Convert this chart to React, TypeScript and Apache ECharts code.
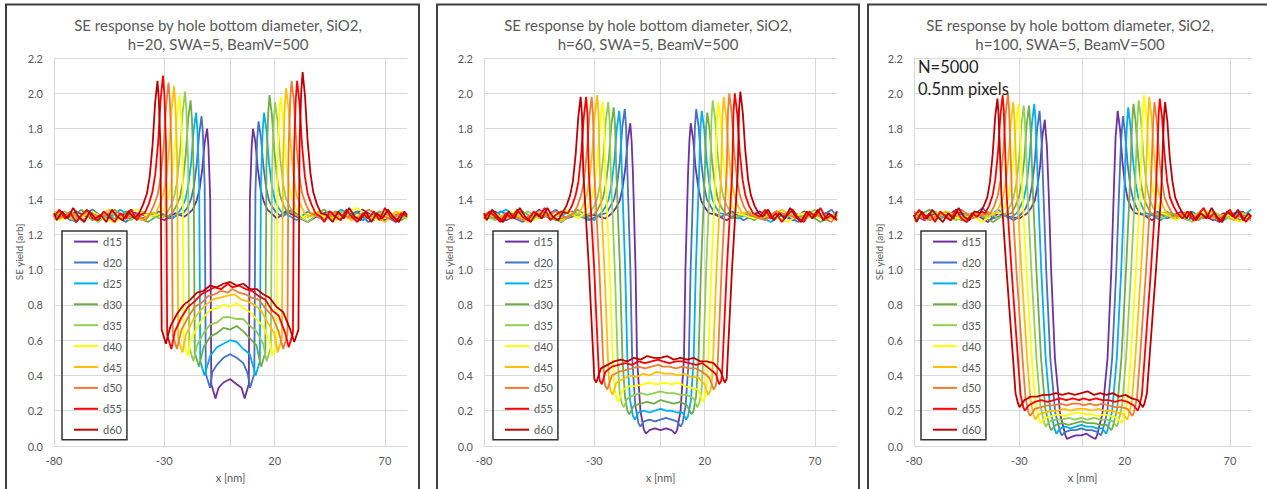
import React, { useEffect, useRef } from 'react';
import * as echarts from 'echarts';

const DIAMETERS = ['d15', 'd20', 'd25', 'd30', 'd35', 'd40', 'd45', 'd50', 'd55', 'd60'];
const COLORS = ['#7030A0', '#4472C4', '#00B0F0', '#70AD47', '#92D050', '#FFFF00', '#FFC000', '#ED7D31', '#FF0000', '#C00000'];
const TITLE_LINE1 = 'SE response by hole bottom diameter, SiO2,';
const TITLE_LINE2 = ['h=20, SWA=5, BeamV=500', 'h=60, SWA=5, BeamV=500', 'h=100, SWA=5, BeamV=500'];
const NOTE_LINES = ['N=5000', '0.5nm pixels'];
const X_MIN = -80;
const X_MAX = 80;
const X_STEP = 50;
const Y_MIN = 0;
const Y_MAX = 2.2;
const Y_STEP = 0.2;

// ---- h=20 (flat [x, y, x, y, ...]) ----
const H20_D15 = [-80,1.31,-75,1.29,-70,1.33,-65,1.30,-60,1.28,-55,1.32,-50,1.30,-45,1.34,-40,1.29,-35,1.31,-30,1.28,-25,1.32,-21,1.30,
-18.9,1.32,-17.1,1.34,-15.4,1.39,-14.1,1.45,-12.8,1.57,-11.7,1.72,-10.6,1.80,
-10.0,1.70,-9.2,1.40,-8.7,0.35,-6.8,0.27,
-5.4,0.33,-3.2,0.36,-0.2,0.38,2.8,0.35,5.0,0.33,
6.4,0.27,8.3,0.35,8.8,1.40,9.6,1.70,
10.2,1.80,11.3,1.72,12.4,1.57,13.7,1.45,15.0,1.39,16.7,1.34,18.5,1.32,
21,1.29,25,1.33,30,1.30,35,1.27,40,1.31,45,1.33,50,1.29,55,1.31,60,1.34,65,1.30,70,1.28,75,1.32,80,1.30];
const H20_D20 = [-80,1.30,-77.5,1.33,-72.5,1.28,-67.5,1.31,-62.5,1.34,-57.5,1.29,-52.5,1.31,-47.5,1.27,-42.5,1.32,-37.5,1.30,-32.5,1.33,-27.5,1.29,-23.5,1.31,
-21.4,1.32,-19.6,1.35,-17.9,1.40,-16.6,1.47,-15.3,1.60,-14.2,1.77,-13.1,1.87,
-12.5,1.77,-11.7,1.47,-11.2,0.41,-9.3,0.33,
-8.2,0.42,-6.2,0.46,-3.2,0.50,-0.2,0.52,2.8,0.50,5.8,0.47,7.8,0.41,
8.9,0.33,10.8,0.41,11.3,1.44,12.1,1.74,
12.7,1.84,13.8,1.75,14.9,1.59,16.2,1.46,17.5,1.39,19.2,1.35,21.0,1.32,
23.5,1.30,27.5,1.34,32.5,1.29,37.5,1.31,42.5,1.28,47.5,1.32,52.5,1.30,57.5,1.33,62.5,1.27,67.5,1.31,72.5,1.29,77.5,1.33,80,1.31];
const H20_D25 = [-80,1.32,-75,1.30,-70,1.27,-65,1.33,-60,1.31,-55,1.29,-50,1.34,-45,1.30,-40,1.28,-35,1.32,-30,1.31,-26,1.29,
-23.9,1.32,-22.1,1.35,-20.4,1.40,-19.1,1.48,-17.8,1.61,-16.7,1.79,-15.6,1.89,
-15.0,1.79,-14.2,1.49,-13.7,0.48,-11.8,0.40,
-9.2,0.51,-6.2,0.56,-3.2,0.58,-0.2,0.60,2.8,0.59,5.8,0.55,8.8,0.52,
11.4,0.40,13.3,0.48,13.8,1.49,14.6,1.79,
15.2,1.89,16.3,1.79,17.4,1.61,18.7,1.48,20.0,1.40,21.7,1.35,23.5,1.32,
26,1.31,30,1.28,35,1.33,40,1.30,45,1.29,50,1.34,55,1.31,60,1.28,65,1.32,70,1.30,75,1.27,80,1.31];
const H20_D30 = [-80,1.29,-77.5,1.32,-72.5,1.30,-67.5,1.34,-62.5,1.28,-57.5,1.31,-52.5,1.29,-47.5,1.33,-42.5,1.30,-37.5,1.27,-32.5,1.31,-28.5,1.30,
-26.4,1.32,-24.6,1.36,-22.9,1.41,-21.6,1.50,-20.3,1.65,-19.2,1.85,-18.1,1.96,
-17.5,1.86,-16.7,1.56,-16.2,0.53,-14.3,0.45,
-12.2,0.56,-9.2,0.62,-6.2,0.64,-3.2,0.67,-0.2,0.66,2.8,0.68,5.8,0.65,8.8,0.61,11.8,0.57,
13.9,0.45,15.8,0.53,16.3,1.59,17.1,1.89,
17.7,1.99,18.8,1.87,19.9,1.67,21.2,1.51,22.5,1.42,24.2,1.36,26.0,1.32,
28.5,1.33,32.5,1.29,37.5,1.31,42.5,1.34,47.5,1.28,52.5,1.30,57.5,1.32,62.5,1.29,67.5,1.33,72.5,1.30,77.5,1.28,80,1.31];
const H20_D35 = [-80,1.31,-75,1.33,-70,1.29,-65,1.31,-60,1.27,-55,1.32,-50,1.30,-45,1.28,-40,1.33,-35,1.30,-31,1.29,
-28.9,1.32,-27.1,1.36,-25.4,1.42,-24.1,1.51,-22.8,1.68,-21.7,1.89,-20.6,2.01,
-20.0,1.91,-19.2,1.61,-18.7,0.56,-16.8,0.48,
-15.2,0.57,-12.2,0.64,-9.2,0.69,-6.2,0.70,-3.2,0.73,-0.2,0.73,2.8,0.72,5.8,0.72,8.8,0.68,11.8,0.65,14.8,0.58,
16.4,0.48,18.3,0.56,18.8,1.55,19.6,1.85,
20.2,1.95,21.3,1.84,22.4,1.65,23.7,1.50,25.0,1.41,26.7,1.36,28.5,1.32,
31,1.30,35,1.27,40,1.32,45,1.30,50,1.33,55,1.29,60,1.31,65,1.28,70,1.34,75,1.30,80,1.29];
const H20_D40 = [-80,1.30,-77.5,1.28,-72.5,1.32,-67.5,1.30,-62.5,1.33,-57.5,1.29,-52.5,1.27,-47.5,1.31,-42.5,1.34,-37.5,1.30,-33.5,1.31,
-31.4,1.32,-29.6,1.36,-27.9,1.42,-26.6,1.51,-25.3,1.67,-24.2,1.87,-23.1,1.99,
-22.5,1.89,-21.7,1.59,-21.2,0.59,-19.3,0.51,
-18.2,0.60,-15.2,0.67,-12.2,0.73,-9.2,0.77,-6.2,0.78,-3.2,0.80,-0.2,0.79,2.8,0.81,5.8,0.78,8.8,0.76,11.8,0.72,14.8,0.68,17.8,0.59,
18.9,0.51,20.8,0.59,21.3,1.58,22.1,1.88,
22.7,1.98,23.8,1.86,24.9,1.66,26.2,1.50,27.5,1.42,29.2,1.36,31.0,1.32,
33.5,1.29,37.5,1.33,42.5,1.30,47.5,1.28,52.5,1.32,57.5,1.35,62.5,1.30,67.5,1.28,72.5,1.31,77.5,1.33,80,1.29];
const H20_D45 = [-80,1.33,-75,1.30,-70,1.28,-65,1.32,-60,1.30,-55,1.34,-50,1.29,-45,1.31,-40,1.28,-36,1.32,
-33.9,1.32,-32.1,1.37,-30.4,1.43,-29.1,1.52,-27.8,1.69,-26.7,1.91,-25.6,2.04,
-25.0,1.94,-24.2,1.64,-23.7,0.61,-21.8,0.53,
-20.2,0.63,-17.2,0.71,-14.2,0.76,-11.2,0.80,-8.2,0.83,-5.2,0.84,-2.2,0.85,1.8,0.86,4.8,0.83,7.8,0.82,10.8,0.80,13.8,0.77,16.8,0.70,19.8,0.64,
21.4,0.53,23.3,0.61,23.8,1.63,24.6,1.93,
25.2,2.03,26.3,1.91,27.4,1.69,28.7,1.52,30.0,1.42,31.7,1.37,33.5,1.32,
36,1.30,40,1.33,45,1.29,50,1.31,55,1.28,60,1.32,65,1.30,70,1.27,75,1.33,80,1.30];
const H20_D50 = [-80,1.31,-77.5,1.29,-72.5,1.33,-67.5,1.28,-62.5,1.31,-57.5,1.30,-52.5,1.34,-47.5,1.29,-42.5,1.31,-38.5,1.28,
-36.4,1.32,-34.6,1.37,-32.9,1.43,-31.6,1.53,-30.3,1.70,-29.2,1.93,-28.1,2.06,
-27.5,1.96,-26.7,1.66,-26.2,0.63,-24.3,0.55,
-22.2,0.66,-19.2,0.73,-16.2,0.79,-13.2,0.81,-10.2,0.85,-7.2,0.86,-4.2,0.88,-1.2,0.87,0.8,0.89,3.8,0.87,6.8,0.86,9.8,0.84,12.8,0.83,15.8,0.78,18.8,0.74,21.8,0.65,
23.9,0.55,25.8,0.63,26.3,1.67,27.1,1.97,
27.7,2.07,28.8,1.94,29.9,1.71,31.2,1.53,32.5,1.43,34.2,1.37,36.0,1.32,
38.5,1.31,42.5,1.28,47.5,1.33,52.5,1.30,57.5,1.29,62.5,1.34,67.5,1.31,72.5,1.29,77.5,1.32,80,1.30];
const H20_D55 = [-80,1.30,-77.5,1.34,-75,1.29,-72.5,1.32,-70,1.27,-67.5,1.31,-65,1.34,-62.5,1.29,-60,1.28,-57.5,1.33,-55,1.30,-52.5,1.27,-50,1.32,-47.5,1.29,-45,1.34,-42.5,1.28,-41,1.31,
-38.9,1.32,-37.1,1.37,-35.4,1.44,-34.1,1.54,-32.8,1.72,-31.7,1.96,-30.6,2.10,
-30.0,2.00,-29.2,1.70,-28.7,0.63,-26.8,0.55,
-25.2,0.65,-22.2,0.73,-19.2,0.79,-16.2,0.82,-13.2,0.86,-10.2,0.88,-7.2,0.90,-4.2,0.89,-1.2,0.92,0.8,0.90,3.8,0.91,6.8,0.89,9.8,0.88,12.8,0.85,15.8,0.83,18.8,0.77,21.8,0.74,24.8,0.64,
26.4,0.56,28.3,0.64,28.8,1.67,29.6,1.97,
30.2,2.07,31.3,1.94,32.4,1.71,33.7,1.53,35.0,1.43,36.7,1.37,38.5,1.32,
41,1.30,42.5,1.27,45,1.33,47.5,1.30,50,1.28,52.5,1.34,55,1.30,57.5,1.27,60,1.32,62.5,1.29,65,1.33,67.5,1.28,70,1.35,72.5,1.30,75,1.27,77.5,1.32,80,1.30];
const H20_D60 = [-80,1.32,-78.8,1.28,-76.3,1.33,-73.8,1.29,-71.3,1.35,-68.8,1.30,-66.3,1.27,-63.8,1.33,-61.3,1.29,-58.8,1.31,-56.3,1.27,-53.8,1.34,-51.3,1.30,-48.8,1.28,-46.3,1.33,-43.5,1.29,
-41.4,1.32,-39.6,1.37,-37.9,1.43,-36.6,1.53,-35.3,1.71,-34.2,1.94,-33.1,2.07,
-32.5,1.97,-31.7,1.67,-31.2,0.66,-29.3,0.58,
-27.2,0.68,-24.2,0.75,-21.2,0.80,-18.2,0.83,-15.2,0.87,-12.2,0.88,-9.2,0.91,-6.2,0.90,-3.2,0.92,-0.2,0.93,2.8,0.91,5.8,0.92,8.8,0.89,11.8,0.89,14.8,0.86,17.8,0.84,20.8,0.79,23.8,0.76,26.8,0.67,
28.9,0.59,30.8,0.66,31.3,1.72,32.1,2.02,
32.7,2.12,33.8,1.98,34.9,1.74,36.2,1.55,37.5,1.44,39.2,1.37,41.0,1.32,
43.5,1.31,46.3,1.27,48.8,1.33,51.3,1.29,53.8,1.35,56.3,1.30,58.8,1.28,61.3,1.33,63.8,1.27,66.3,1.32,68.8,1.29,71.3,1.34,73.8,1.30,76.3,1.27,78.8,1.33,80,1.31];

// ---- h=60 ----
const H60_D15 = [-80,1.30,-75,1.33,-70,1.28,-65,1.31,-60,1.29,-55,1.34,-50,1.30,-45,1.27,-40,1.32,-35,1.30,-30,1.31,-25,1.29,
-22.0,1.32,-20.2,1.35,-18.5,1.39,-17.2,1.46,-15.9,1.58,-14.8,1.74,-13.7,1.83,
-13.1,1.73,-12.5,1.55,-11.3,1.00,-10.65,0.50,-9.1,0.20,-7.5,0.09,-6.6,0.07,
-5,0.09,-2.5,0.10,0,0.09,2.5,0.10,5,0.09,
6.6,0.07,7.5,0.09,9.1,0.20,10.65,0.50,11.3,1.00,12.5,1.55,13.1,1.73,
13.7,1.83,14.8,1.74,15.9,1.58,17.2,1.46,18.5,1.39,20.2,1.35,22.0,1.32,
25,1.31,30,1.28,35,1.32,40,1.30,45,1.33,50,1.29,55,1.31,60,1.28,65,1.33,70,1.30,75,1.32,80,1.29];
const H60_D20 = [-80,1.31,-77.5,1.29,-72.5,1.33,-67.5,1.30,-62.5,1.27,-57.5,1.32,-52.5,1.30,-47.5,1.34,-42.5,1.29,-37.5,1.31,-32.5,1.28,-27.5,1.31,
-24.5,1.32,-22.7,1.36,-21.0,1.40,-19.7,1.48,-18.4,1.62,-17.3,1.81,-16.2,1.91,
-15.6,1.81,-15.0,1.55,-13.65,1.00,-12.85,0.50,-11.4,0.23,-10,0.13,-9.1,0.11,
-7.5,0.14,-5,0.15,-2.5,0.14,0,0.15,2.5,0.16,5,0.15,7.5,0.14,
9.1,0.11,10,0.13,11.4,0.23,12.85,0.50,13.65,1.00,15.0,1.55,15.6,1.81,
16.2,1.91,17.3,1.81,18.4,1.62,19.7,1.48,21.0,1.40,22.7,1.36,24.5,1.32,
27.5,1.30,32.5,1.33,37.5,1.28,42.5,1.31,47.5,1.29,52.5,1.33,57.5,1.30,62.5,1.27,67.5,1.32,72.5,1.30,77.5,1.34,80,1.30];
const H60_D25 = [-80,1.29,-75,1.31,-70,1.34,-65,1.30,-60,1.28,-55,1.32,-50,1.29,-45,1.31,-40,1.33,-35,1.30,-30,1.28,
-27.0,1.32,-25.2,1.35,-23.5,1.40,-22.2,1.48,-20.9,1.62,-19.8,1.80,-18.7,1.90,
-18.1,1.80,-17.5,1.55,-16.0,1.00,-15.05,0.50,-13.8,0.26,-12.5,0.17,-11.6,0.15,
-10,0.19,-7.5,0.20,-5,0.19,-2.5,0.20,0,0.21,2.5,0.20,5,0.20,7.5,0.19,10,0.19,
11.6,0.15,12.5,0.17,13.8,0.26,15.05,0.50,16.0,1.00,17.5,1.55,18.1,1.80,
18.7,1.90,19.8,1.80,20.9,1.62,22.2,1.48,23.5,1.40,25.2,1.35,27.0,1.32,
30,1.31,35,1.29,40,1.32,45,1.30,50,1.27,55,1.31,60,1.33,65,1.29,70,1.31,75,1.28,80,1.32];
const H60_D30 = [-80,1.32,-77.5,1.30,-72.5,1.28,-67.5,1.31,-62.5,1.33,-57.5,1.29,-52.5,1.31,-47.5,1.28,-42.5,1.30,-37.5,1.34,-32.5,1.30,
-29.5,1.32,-27.7,1.36,-26.0,1.41,-24.7,1.49,-23.4,1.63,-22.3,1.82,-21.2,1.92,
-20.6,1.82,-20.0,1.55,-18.35,1.00,-17.25,0.50,-16.1,0.28,-15,0.20,-14.1,0.18,
-12,0.23,-9,0.24,-6,0.25,-3,0.24,0,0.26,3,0.25,6,0.24,9,0.25,12,0.23,
14.1,0.18,15,0.20,16.1,0.28,17.25,0.50,18.35,1.00,20.0,1.52,20.6,1.79,
21.2,1.89,22.3,1.79,23.4,1.61,24.7,1.48,26.0,1.40,27.7,1.35,29.5,1.32,
32.5,1.29,37.5,1.31,42.5,1.28,47.5,1.33,52.5,1.30,57.5,1.32,62.5,1.29,67.5,1.31,72.5,1.27,77.5,1.30,80,1.33];
const H60_D35 = [-80,1.31,-75,1.28,-70,1.32,-65,1.30,-60,1.33,-55,1.29,-50,1.31,-45,1.27,-40,1.32,-35,1.30,
-32.0,1.32,-30.2,1.36,-28.5,1.41,-27.2,1.50,-25.9,1.64,-24.8,1.84,-23.7,1.95,
-23.1,1.85,-22.5,1.55,-20.7,1.00,-19.45,0.50,-18.5,0.30,-17.5,0.24,-16.6,0.22,
-15,0.27,-12,0.29,-9,0.30,-6,0.29,-3,0.30,0,0.31,3,0.30,6,0.30,9,0.29,12,0.29,15,0.27,
16.6,0.22,17.5,0.24,18.5,0.30,19.45,0.50,20.7,1.00,22.5,1.55,23.1,1.86,
23.7,1.96,24.8,1.85,25.9,1.65,27.2,1.50,28.5,1.41,30.2,1.36,32.0,1.32,
35,1.30,40,1.33,45,1.29,50,1.31,55,1.28,60,1.32,65,1.30,70,1.34,75,1.29,80,1.31];
const H60_D40 = [-80,1.28,-77.5,1.31,-72.5,1.29,-67.5,1.33,-62.5,1.30,-57.5,1.28,-52.5,1.32,-47.5,1.30,-42.5,1.34,-37.5,1.29,
-34.5,1.32,-32.7,1.36,-31.0,1.41,-29.7,1.50,-28.4,1.64,-27.3,1.84,-26.2,1.95,
-25.6,1.85,-25.0,1.55,-23.05,1.00,-21.65,0.50,-20.8,0.33,-20,0.27,-19.1,0.25,
-17,0.32,-14,0.34,-11,0.34,-8,0.35,-5,0.36,-2,0.35,2,0.36,5,0.35,8,0.36,11,0.34,14,0.33,17,0.32,
19.1,0.25,20,0.27,20.8,0.33,21.65,0.50,23.05,1.00,25.0,1.55,25.6,1.85,
26.2,1.95,27.3,1.84,28.4,1.64,29.7,1.50,31.0,1.41,32.7,1.36,34.5,1.32,
37.5,1.31,42.5,1.29,47.5,1.32,52.5,1.30,57.5,1.27,62.5,1.31,67.5,1.33,72.5,1.29,77.5,1.31,80,1.30];
const H60_D45 = [-80,1.30,-75,1.32,-70,1.29,-65,1.31,-60,1.27,-55,1.33,-50,1.30,-45,1.28,-40,1.31,
-37.0,1.32,-35.2,1.36,-33.5,1.42,-32.2,1.51,-30.9,1.67,-29.8,1.87,-28.7,1.99,
-28.1,1.89,-27.5,1.55,-25.4,1.00,-23.85,0.50,-23.2,0.35,-22.5,0.31,-21.6,0.29,
-20,0.36,-17,0.38,-14,0.40,-11,0.39,-8,0.41,-5,0.40,-2,0.42,2,0.41,5,0.41,8,0.40,11,0.41,14,0.39,17,0.39,20,0.35,
21.6,0.29,22.5,0.31,23.2,0.35,23.85,0.50,25.4,1.00,27.5,1.55,28.1,1.88,
28.7,1.98,29.8,1.86,30.9,1.66,32.2,1.50,33.5,1.42,35.2,1.36,37.0,1.32,
40,1.32,45,1.29,50,1.31,55,1.34,60,1.30,65,1.28,70,1.32,75,1.30,80,1.28];
const H60_D50 = [-80,1.31,-77.5,1.33,-72.5,1.29,-67.5,1.31,-62.5,1.28,-57.5,1.32,-52.5,1.30,-47.5,1.33,-42.5,1.29,
-39.5,1.32,-37.7,1.36,-36.0,1.42,-34.7,1.50,-33.4,1.66,-32.3,1.86,-31.2,1.98,
-30.6,1.88,-30.0,1.55,-27.7,1.00,-26.05,0.50,-25.5,0.37,-25,0.34,-24.1,0.32,
-22,0.40,-19,0.42,-16,0.43,-13,0.44,-10,0.45,-7,0.44,-4,0.45,-1,0.46,1,0.45,4,0.45,7,0.44,10,0.45,13,0.44,16,0.44,19,0.42,22,0.39,
24.1,0.32,25,0.34,25.5,0.37,26.05,0.50,27.7,1.00,30.0,1.55,30.6,1.90,
31.2,2.00,32.3,1.88,33.4,1.67,34.7,1.51,36.0,1.42,37.7,1.36,39.5,1.32,
42.5,1.30,47.5,1.28,52.5,1.33,57.5,1.31,62.5,1.29,67.5,1.32,72.5,1.30,77.5,1.27,80,1.31];
const H60_D55 = [-80,1.29,-77.5,1.33,-75,1.30,-72.5,1.27,-70,1.32,-67.5,1.29,-65,1.34,-62.5,1.30,-60,1.28,-57.5,1.33,-55,1.30,-52.5,1.35,-50,1.28,-47.5,1.31,-45,1.33,
-42.0,1.32,-40.2,1.36,-38.5,1.42,-37.2,1.50,-35.9,1.66,-34.8,1.86,-33.7,1.98,
-33.1,1.88,-32.5,1.55,-30.05,1.00,-28.25,0.50,-27.85,0.40,-27.5,0.37,-26.6,0.35,
-25,0.42,-22,0.45,-19,0.46,-16,0.47,-13,0.46,-10,0.48,-7,0.47,-4,0.48,-1,0.49,1,0.48,4,0.47,7,0.48,10,0.48,13,0.47,16,0.46,19,0.47,22,0.44,25,0.41,
26.6,0.35,27.5,0.37,27.85,0.40,28.25,0.50,30.05,1.00,32.5,1.55,33.1,1.90,
33.7,2.00,34.8,1.88,35.9,1.67,37.2,1.51,38.5,1.42,40.2,1.36,42.0,1.32,
45,1.30,47.5,1.34,50,1.29,52.5,1.32,55,1.27,57.5,1.31,60,1.34,62.5,1.29,65,1.27,67.5,1.33,70,1.30,72.5,1.35,75,1.29,77.5,1.31,80,1.28];
const H60_D60 = [-80,1.32,-78.8,1.28,-76.3,1.34,-73.8,1.30,-71.3,1.27,-68.8,1.33,-66.3,1.29,-63.8,1.35,-61.3,1.30,-58.8,1.27,-56.3,1.32,-53.8,1.29,-51.3,1.35,-48.8,1.30,-46.3,1.28,
-44.5,1.32,-42.7,1.36,-41.0,1.42,-39.7,1.50,-38.4,1.66,-37.3,1.86,-36.2,1.98,
-35.6,1.88,-35.0,1.55,-32.4,1.00,-30.45,0.50,-30,0.38,-29.1,0.36,
-27,0.44,-24,0.46,-21,0.48,-18,0.49,-15,0.48,-12,0.50,-9,0.49,-6,0.51,-3,0.50,0,0.50,3,0.51,6,0.49,9,0.50,12,0.49,15,0.50,18,0.48,21,0.48,24,0.47,27,0.43,
29.1,0.36,30,0.38,30.45,0.50,32.4,1.00,35.0,1.55,35.6,1.91,
36.2,2.01,37.3,1.89,38.4,1.68,39.7,1.51,41.0,1.42,42.7,1.36,44.5,1.32,
46.3,1.30,48.8,1.34,51.3,1.28,53.8,1.32,56.3,1.29,58.8,1.35,61.3,1.30,63.8,1.27,66.3,1.33,68.8,1.29,71.3,1.34,73.8,1.28,76.3,1.32,78.8,1.29,80,1.33];

// ---- h=100 ----
const H100_D15 = [-80,1.31,-75,1.28,-70,1.32,-65,1.30,-60,1.34,-55,1.29,-50,1.31,-45,1.27,-40,1.32,-35,1.30,-30,1.29,
-26.2,1.32,-24.4,1.35,-22.7,1.39,-21.4,1.47,-20.1,1.59,-19.0,1.76,-17.9,1.85,
-17.4,1.77,-16.9,1.70,-16.0,1.42,-14.9,1.00,-13.1,0.50,-10.6,0.18,-8.1,0.06,-7.4,0.04,
-5.6,0.05,-3.1,0.06,-0.6,0.06,1.9,0.07,4.4,0.05,
6.2,0.04,6.9,0.06,9.4,0.18,11.9,0.50,13.7,1.00,14.8,1.42,15.7,1.75,16.2,1.82,
16.7,1.90,17.8,1.80,18.9,1.62,20.2,1.48,21.5,1.40,23.2,1.35,25.0,1.32,
29,1.31,33,1.28,37,1.32,42,1.30,47,1.33,52,1.29,57,1.31,62,1.28,67,1.32,72,1.30,76,1.33,80,1.29];
const H100_D20 = [-80,1.30,-77.5,1.33,-72.5,1.29,-67.5,1.31,-62.5,1.28,-57.5,1.32,-52.5,1.30,-47.5,1.35,-42.5,1.29,-37.5,1.31,-32.5,1.28,
-28.7,1.32,-26.9,1.35,-25.2,1.40,-23.9,1.48,-22.6,1.62,-21.5,1.80,-20.4,1.90,
-19.9,1.82,-19.4,1.72,-18.5,1.42,-17.25,1.00,-15.3,0.50,-12.95,0.19,-10.6,0.08,-9.9,0.06,
-8.1,0.08,-5.6,0.09,-3.1,0.09,-0.6,0.10,1.9,0.09,4.4,0.09,6.9,0.08,
8.7,0.06,9.4,0.08,11.75,0.19,14.1,0.50,16.05,1.00,17.3,1.42,18.2,1.70,18.7,1.79,
19.2,1.87,20.3,1.77,21.4,1.60,22.7,1.47,24.0,1.40,25.7,1.35,27.5,1.32,
31.5,1.30,35.5,1.33,40,1.29,45,1.31,50,1.28,55,1.32,60,1.30,65,1.27,70,1.31,75,1.33,80,1.30];
const H100_D25 = [-80,1.32,-75,1.30,-70,1.28,-65,1.33,-60,1.30,-55,1.27,-50,1.32,-45,1.30,-40,1.34,-35,1.29,
-31.2,1.32,-29.4,1.36,-27.7,1.41,-26.4,1.49,-25.1,1.64,-24.0,1.83,-22.9,1.94,
-22.4,1.86,-21.9,1.72,-21.0,1.42,-19.6,1.00,-17.5,0.50,-15.3,0.20,-13.1,0.09,-12.4,0.07,
-10.6,0.10,-8.1,0.11,-5.6,0.10,-3.1,0.11,-0.6,0.12,1.9,0.11,4.4,0.11,6.9,0.10,9.4,0.10,
11.2,0.07,11.9,0.09,14.1,0.20,16.3,0.50,18.4,1.00,19.8,1.42,20.7,1.72,21.2,1.84,
21.7,1.92,22.8,1.81,23.9,1.63,25.2,1.49,26.5,1.41,28.2,1.36,30.0,1.32,
33,1.31,37,1.28,42,1.32,47,1.30,52,1.33,57,1.29,62,1.31,67,1.28,72,1.32,76,1.30,80,1.34];
const H100_D30 = [-80,1.29,-77.5,1.31,-72.5,1.34,-67.5,1.29,-62.5,1.31,-57.5,1.28,-52.5,1.32,-47.5,1.30,-42.5,1.27,-37.5,1.31,
-33.7,1.32,-31.9,1.36,-30.2,1.41,-28.9,1.49,-27.6,1.63,-26.5,1.82,-25.4,1.93,
-24.9,1.85,-24.4,1.72,-23.5,1.42,-21.9,1.00,-19.7,0.50,-17.65,0.21,-15.6,0.11,-14.9,0.09,
-12.6,0.12,-9.6,0.13,-6.6,0.12,-3.6,0.13,-0.6,0.14,2.4,0.13,5.4,0.13,8.4,0.12,11.4,0.12,
13.7,0.09,14.4,0.11,16.45,0.21,18.5,0.50,20.7,1.00,22.3,1.42,23.2,1.72,23.7,1.86,
24.2,1.94,25.3,1.83,26.4,1.64,27.7,1.49,29.0,1.41,30.7,1.36,32.5,1.32,
36,1.30,40,1.33,45,1.29,50,1.31,55,1.28,60,1.33,65,1.30,70,1.32,75,1.28,80,1.31];
const H100_D35 = [-80,1.31,-75,1.29,-70,1.33,-65,1.30,-60,1.28,-55,1.32,-50,1.30,-45,1.33,-40,1.29,
-36.2,1.32,-34.4,1.36,-32.7,1.41,-31.4,1.49,-30.1,1.63,-29.0,1.82,-27.9,1.93,
-27.4,1.85,-26.9,1.72,-26.0,1.42,-24.3,1.00,-21.9,0.50,-20.0,0.23,-18.1,0.13,-17.4,0.11,
-15.6,0.14,-12.6,0.15,-9.6,0.15,-6.6,0.16,-3.6,0.15,-0.6,0.16,2.4,0.15,5.4,0.16,8.4,0.15,11.4,0.15,14.4,0.14,
16.2,0.11,16.9,0.13,18.8,0.23,20.7,0.50,23.1,1.00,24.8,1.42,25.7,1.72,26.2,1.88,
26.7,1.96,27.8,1.85,28.9,1.65,30.2,1.50,31.5,1.41,33.2,1.36,35.0,1.32,
38,1.29,42,1.32,47,1.30,52,1.27,57,1.31,62,1.33,67,1.30,72,1.28,76,1.32,80,1.30];
const H100_D40 = [-80,1.30,-77.5,1.32,-72.5,1.28,-67.5,1.33,-62.5,1.30,-57.5,1.29,-52.5,1.31,-47.5,1.27,-42.5,1.32,
-38.7,1.32,-36.9,1.36,-35.2,1.41,-33.9,1.49,-32.6,1.64,-31.5,1.83,-30.4,1.94,
-29.9,1.86,-29.4,1.72,-28.5,1.42,-26.6,1.00,-24.1,0.50,-22.35,0.24,-20.6,0.15,-19.9,0.13,
-17.6,0.16,-14.6,0.17,-11.6,0.18,-8.6,0.17,-5.6,0.18,-2.6,0.19,1.4,0.18,4.4,0.18,7.4,0.17,10.4,0.18,13.4,0.17,16.4,0.16,
18.7,0.13,19.4,0.15,21.15,0.24,22.9,0.50,25.4,1.00,27.3,1.42,28.2,1.72,28.7,1.90,
29.2,1.99,30.3,1.87,31.4,1.67,32.7,1.51,34.0,1.42,35.7,1.36,37.5,1.32,
40.5,1.31,44.5,1.28,49.5,1.32,54.5,1.30,59.5,1.33,64.5,1.29,69.5,1.31,74.5,1.27,80,1.31];
const H100_D45 = [-80,1.28,-75,1.31,-70,1.29,-65,1.33,-60,1.31,-55,1.28,-50,1.32,-45,1.30,
-41.2,1.32,-39.4,1.36,-37.7,1.41,-36.4,1.50,-35.1,1.64,-34.0,1.84,-32.9,1.95,
-32.4,1.87,-31.9,1.72,-31.0,1.42,-29.0,1.00,-26.3,0.50,-24.7,0.26,-23.1,0.17,-22.4,0.15,
-20.6,0.18,-17.6,0.19,-14.6,0.20,-11.6,0.20,-8.6,0.21,-5.6,0.20,-2.6,0.21,1.4,0.21,4.4,0.20,7.4,0.21,10.4,0.20,13.4,0.20,16.4,0.19,19.4,0.18,
21.2,0.15,21.9,0.17,23.5,0.26,25.1,0.50,27.8,1.00,29.8,1.42,30.7,1.72,31.2,1.89,
31.7,1.98,32.8,1.86,33.9,1.66,35.2,1.50,36.5,1.42,38.2,1.36,40.0,1.32,
43,1.29,47,1.32,52,1.30,57,1.34,62,1.29,67,1.31,72,1.28,76,1.32,80,1.30];
const H100_D50 = [-80,1.33,-77.5,1.30,-72.5,1.28,-67.5,1.32,-62.5,1.30,-57.5,1.34,-52.5,1.29,-47.5,1.31,
-43.7,1.32,-41.9,1.36,-40.2,1.42,-38.9,1.51,-37.6,1.67,-36.5,1.88,-35.4,2.00,
-34.9,1.92,-34.4,1.74,-33.5,1.42,-31.4,1.00,-28.5,0.50,-27.05,0.27,-25.6,0.19,-24.9,0.17,
-22.6,0.21,-19.6,0.22,-16.6,0.23,-13.6,0.23,-10.6,0.24,-7.6,0.23,-4.6,0.24,-1.6,0.24,0.4,0.23,3.4,0.24,6.4,0.23,9.4,0.24,12.4,0.23,15.4,0.22,18.4,0.22,21.4,0.21,
23.7,0.17,24.4,0.19,25.85,0.27,27.3,0.50,30.2,1.00,32.3,1.42,33.2,1.72,33.7,1.87,
34.2,1.95,35.3,1.84,36.4,1.64,37.7,1.50,39.0,1.41,40.7,1.36,42.5,1.32,
45.5,1.30,49.5,1.33,54.5,1.28,59.5,1.31,64.5,1.29,69.5,1.32,74.5,1.30,80,1.28];
const H100_D55 = [-80,1.30,-77.5,1.34,-75,1.29,-72.5,1.32,-70,1.27,-67.5,1.33,-65,1.30,-62.5,1.28,-60,1.34,-57.5,1.29,-55,1.27,-52.5,1.32,-50,1.30,-48,1.33,
-46.2,1.32,-44.4,1.36,-42.7,1.42,-41.4,1.51,-40.1,1.67,-39.0,1.87,-37.9,1.99,
-37.4,1.91,-36.9,1.74,-36.0,1.42,-33.7,1.00,-30.7,0.50,-29.4,0.29,-28.1,0.22,-27.4,0.20,
-25.6,0.23,-22.6,0.25,-19.6,0.26,-16.6,0.25,-13.6,0.26,-10.6,0.27,-7.6,0.26,-4.6,0.27,-1.6,0.26,0.4,0.27,3.4,0.26,6.4,0.27,9.4,0.26,12.4,0.26,15.4,0.25,18.4,0.26,21.4,0.25,24.4,0.23,
26.2,0.20,26.9,0.22,28.2,0.29,29.5,0.50,32.5,1.00,34.8,1.42,35.7,1.72,36.2,1.89,
36.7,1.97,37.8,1.86,38.9,1.66,40.2,1.50,41.5,1.41,43.2,1.36,45.0,1.32,
47.5,1.29,50,1.33,52.5,1.28,55,1.31,57.5,1.35,60,1.29,62.5,1.32,65,1.27,67.5,1.31,70,1.34,72.5,1.29,75,1.32,77.5,1.27,80,1.31];
const H100_D60 = [-80,1.31,-78.8,1.27,-76.3,1.33,-73.8,1.29,-71.3,1.34,-68.8,1.30,-66.3,1.27,-63.8,1.32,-61.3,1.29,-58.8,1.35,-56.3,1.30,-53.8,1.28,-51.3,1.33,
-48.7,1.32,-46.9,1.36,-45.2,1.41,-43.9,1.50,-42.6,1.66,-41.5,1.86,-40.4,1.97,
-39.9,1.89,-39.4,1.74,-38.5,1.42,-36.1,1.00,-33.0,0.50,-31.8,0.30,-30.6,0.24,-29.9,0.22,
-27.6,0.26,-24.6,0.28,-21.6,0.28,-18.6,0.29,-15.6,0.29,-12.6,0.30,-9.6,0.29,-6.6,0.30,-3.6,0.29,-0.6,0.30,2.4,0.31,5.4,0.29,8.4,0.30,11.4,0.29,14.4,0.30,17.4,0.28,20.4,0.29,23.4,0.27,26.4,0.26,
28.7,0.22,29.4,0.24,30.6,0.30,31.8,0.50,34.9,1.00,37.3,1.42,38.2,1.72,38.7,1.87,
39.2,1.95,40.3,1.84,41.4,1.64,42.7,1.50,44.0,1.41,45.7,1.36,47.5,1.32,
49.5,1.29,51.3,1.33,53.8,1.28,56.3,1.32,58.8,1.29,61.3,1.35,63.8,1.30,66.3,1.27,68.8,1.33,71.3,1.30,73.8,1.34,76.3,1.28,78.8,1.32,80,1.30];

const PANEL_CURVES = [
  [H20_D15, H20_D20, H20_D25, H20_D30, H20_D35, H20_D40, H20_D45, H20_D50, H20_D55, H20_D60],
  [H60_D15, H60_D20, H60_D25, H60_D30, H60_D35, H60_D40, H60_D45, H60_D50, H60_D55, H60_D60],
  [H100_D15, H100_D20, H100_D25, H100_D30, H100_D35, H100_D40, H100_D45, H100_D50, H100_D55, H100_D60],
];

// layout (pixels)
const FONT = 'Lato, "Noto Sans", "DejaVu Sans", sans-serif';
const GRID_TOP = 58;
const GRID_HEIGHT = 388;
const GRID_LEFTS = [54, 484, 914];
const GRID_WIDTHS = [353, 353, 337];
const TITLE_CENTERS = [218, 648, 1070];
const LEGEND_LEFTS = [62, 493, 921];
const BOXES = [
  { x: 6, w: 413 },
  { x: 437, w: 422 },
  { x: 868, w: 420 },
];

function toPairs(flat: number[]): number[][] {
  const out: number[][] = [];
  for (let i = 0; i + 1 < flat.length; i += 2) out.push([flat[i], flat[i + 1]]);
  return out;
}

function buildOption() {
  const grid = GRID_LEFTS.map((left, i) => ({
    left,
    top: GRID_TOP,
    width: GRID_WIDTHS[i],
    height: GRID_HEIGHT,
    containLabel: false,
  }));
  const xAxis = GRID_LEFTS.map((_, i) => ({
    type: 'value',
    gridIndex: i,
    min: X_MIN,
    max: X_MAX,
    interval: X_STEP,
    name: 'x [nm]',
    nameLocation: 'middle',
    nameGap: 26,
    nameTextStyle: { color: '#595959', fontSize: 11, fontFamily: FONT },
    axisLine: { show: true, lineStyle: { color: '#d9d9d9', width: 1 } },
    axisTick: { show: false },
    axisLabel: { color: '#595959', fontSize: 11, fontFamily: FONT, margin: 9, showMaxLabel: false },
    splitLine: { show: true, showMaxLine: false, lineStyle: { color: '#d9d9d9', width: 1 } },
  }));
  const yAxis = GRID_LEFTS.map((_, i) => ({
    type: 'value',
    gridIndex: i,
    min: Y_MIN,
    max: Y_MAX,
    interval: Y_STEP,
    name: 'SE yield [arb]',
    nameLocation: 'middle',
    nameGap: 29,
    nameTextStyle: { color: '#595959', fontSize: 10, fontFamily: FONT },
    axisLine: { show: true, lineStyle: { color: '#d9d9d9', width: 1 } },
    axisTick: { show: false },
    axisLabel: {
      color: '#595959',
      fontSize: 11,
      fontFamily: FONT,
      margin: 11,
      formatter: (v: number) => v.toFixed(1),
    },
    splitLine: { show: true, lineStyle: { color: '#d9d9d9', width: 1 } },
  }));
  const title = TITLE_LINE2.map((line2, i) => ({
    text: TITLE_LINE1 + '\n' + line2,
    left: TITLE_CENTERS[i],
    top: 16,
    textAlign: 'center',
    padding: 0,
    textStyle: { color: '#595959', fontSize: 15, lineHeight: 18.5, fontWeight: 'normal', fontFamily: FONT },
  }));
  const legend = LEGEND_LEFTS.map((left) => ({
    orient: 'vertical',
    left,
    top: 231,
    data: DIAMETERS,
    itemWidth: 24,
    itemHeight: 14,
    itemGap: 9.7,
    padding: [5, 5, 4.5, 11],
    borderColor: '#333333',
    borderWidth: 1.5,
    selectedMode: false,
    itemStyle: { opacity: 0 },
    lineStyle: { width: 2 },
    textStyle: { color: '#595959', fontSize: 11, fontFamily: FONT },
  }));
  const series: any[] = [];
  PANEL_CURVES.forEach((curves, p) => {
    curves.forEach((flat, j) => {
      series.push({
        type: 'line',
        name: DIAMETERS[j],
        xAxisIndex: p,
        yAxisIndex: p,
        data: toPairs(flat),
        symbol: 'none',
        showSymbol: false,
        smooth: false,
        silent: true,
        lineStyle: { color: COLORS[j], width: 1.8 },
        itemStyle: { color: COLORS[j] },
        z: 2 + j,
      });
    });
  });
  const graphic: any[] = BOXES.map((b) => ({
    type: 'rect',
    silent: true,
    z: 0,
    shape: { x: b.x, y: 4.5, width: b.w, height: 495 },
    style: { fill: 'none', stroke: '#3f3f3f', lineWidth: 2 },
  }));
  NOTE_LINES.forEach((t, k) => {
    graphic.push({
      type: 'text',
      silent: true,
      z: 50,
      x: 918,
      y: 67 + k * 22,
      style: {
        text: t,
        fill: '#1f1f1f',
        font: '16.5px ' + FONT,
        textAlign: 'left',
        textVerticalAlign: 'middle',
        align: 'left',
        verticalAlign: 'middle',
      },
    });
  });
  return {
    animation: false,
    backgroundColor: '#ffffff',
    title,
    legend,
    grid,
    xAxis,
    yAxis,
    series,
    graphic,
  };
}

export default function App() {
  const ref = useRef<HTMLDivElement>(null);
  useEffect(() => {
    if (!ref.current) return;
    const chart = echarts.init(ref.current, undefined, { renderer: 'svg' });
    chart.setOption(buildOption() as any);
    return () => chart.dispose();
  }, []);
  return (
    <div
      ref={ref}
      style={{ position: 'absolute', left: 0, top: 0, width: 1267, height: 489, background: '#ffffff' }}
    />
  );
}
